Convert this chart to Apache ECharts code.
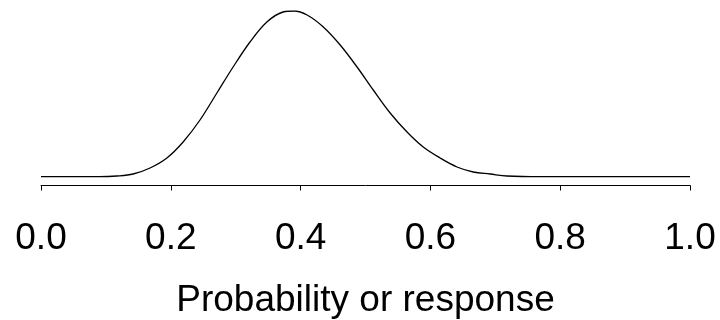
<!DOCTYPE html>
<html>
<head>
<meta charset="utf-8">
<script src="https://cdn.jsdelivr.net/npm/echarts@6/dist/echarts.min.js"></script>
<style>html,body{margin:0;padding:0;background:#fff}#c{width:720px;height:320px}</style>
</head>
<body>
<div id="c"></div>
<script>
var xValues = [0, 0.09, 0.117, 0.142, 0.168, 0.194, 0.219, 0.245, 0.271, 0.296, 0.322, 0.348, 0.373, 0.39, 0.41, 0.435, 0.461, 0.487, 0.512, 0.538, 0.564, 0.589, 0.615, 0.641, 0.666, 0.692, 0.718, 0.77, 1.0];
var densityValues = [0, 0, 0.014, 0.054, 0.174, 0.374, 0.694, 1.134, 1.674, 2.194, 2.694, 3.094, 3.294, 3.314, 3.234, 2.994, 2.634, 2.194, 1.734, 1.274, 0.894, 0.594, 0.374, 0.194, 0.094, 0.054, 0.014, 0, 0];
var xTicks = [0, 0.2, 0.4, 0.6, 0.8, 1.0];
var xLabel = 'Probability or response';

var data = xValues.map(function (x, i) { return [x, densityValues[i]]; });
var chart = echarts.init(document.getElementById('c'), null, {renderer: 'canvas'});
chart.setOption({
  animation: false,
  backgroundColor: '#fff',
  grid: {left: 41, right: 30, top: 11, height: 174.5, containLabel: false, outerBoundsMode: 'none'},
  xAxis: {
    type: 'value', min: xTicks[0], max: xTicks[xTicks.length - 1], interval: 0.2,
    axisLine: {show: true, onZero: false, lineStyle: {color: '#000', width: 1}},
    axisTick: {show: true, length: 5, lineStyle: {color: '#000', width: 1}},
    splitLine: {show: false},
    axisLabel: {
      margin: 35, color: '#000', fontSize: 37, fontFamily: 'Liberation Sans',
      formatter: function (v) { return v.toFixed(1); },
      showMinLabel: true, showMaxLabel: true
    },
    name: xLabel, nameLocation: 'middle', nameGap: 97,
    nameTextStyle: {color: '#000', fontSize: 37, fontFamily: 'Liberation Sans'}
  },
  yAxis: {
    type: 'value', min: -0.176, max: 3.314, show: false, splitLine: {show: false}
  },
  series: [{
    type: 'line', data: data, smooth: 0.35, showSymbol: false,
    lineStyle: {color: '#000', width: 1.3}
  }]
});
</script>
</body>
</html>
